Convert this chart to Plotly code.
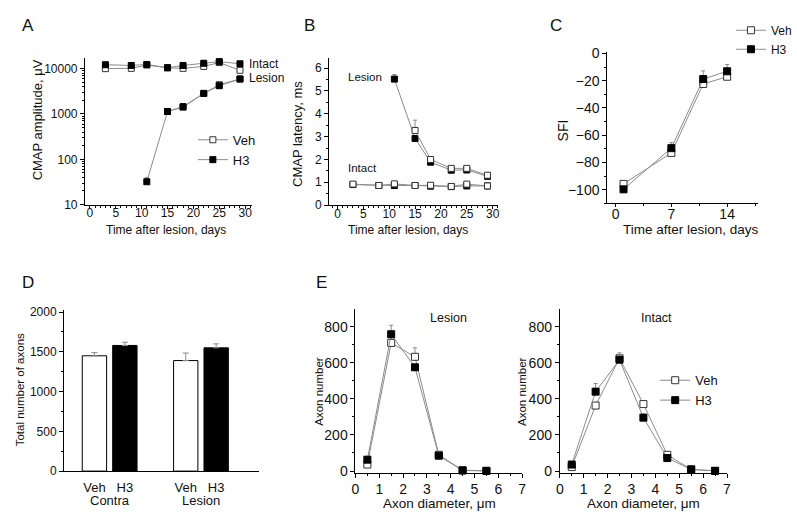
import plotly.graph_objects as go

# ---------------- data ----------------
# Panel A: CMAP amplitude (uV)
days_intact_A = [3, 8, 11, 15, 18, 22, 25, 29]
intact_veh_A = [10000, 10150, 12000, 10400, 10150, 11200, 13600, 9200]
intact_h3_A = [12200, 11750, 12350, 10500, 11750, 13150, 14300, 12800]
days_lesion_veh_A = [15, 18, 22, 25, 29]
lesion_veh_A = [1135, 1410, 2840, 4420, 5920]
days_lesion_h3_A = [11, 15, 18, 22, 25, 29]
lesion_h3_A = [32, 1135, 1450, 2840, 4200, 5900]
lesion_h3_err_A = [8, 0, 0, 0, 0, 0]

# Panel B: CMAP latency (ms)
days_intact_B = [3, 8, 11, 15, 18, 22, 25, 29]
intact_veh_B = [0.92, 0.86, 0.93, 0.86, 0.87, 0.82, 0.92, 0.84]
intact_h3_B = [0.90, 0.86, 0.86, 0.86, 0.83, 0.81, 0.84, 0.84]
days_lesion_veh_B = [15, 18, 22, 25, 29]
lesion_veh_B = [3.27, 2.00, 1.61, 1.61, 1.31]
lesion_veh_err_B = [0.45, 0, 0, 0, 0]
days_lesion_h3_B = [11, 15, 18, 22, 25, 29]
lesion_h3_B = [5.52, 2.92, 1.88, 1.53, 1.54, 1.26]
lesion_h3_err_B = [0.2, 0, 0, 0, 0, 0]

# Panel C: SFI
days_C = [1, 7, 11, 14]
sfi_veh = [-95.7, -73.0, -22.4, -17.1]
sfi_veh_err = [0, 3, 0, 0]
sfi_h3 = [-99.7, -69.5, -18.8, -13.1]
sfi_h3_err = [0, 4, 6, 5]

# Panel D: total number of axons
groups_D = ["Contra", "Lesion"]
treat_D = ["Veh", "H3"]
axons_veh = [1450, 1390]
axons_veh_err = [40, 95]
axons_h3 = [1580, 1550]
axons_h3_err = [40, 50]

# Panel E: axon diameter distributions
diam_lesion = [0.5, 1.5, 2.5, 3.5, 4.5, 5.5]
lesion_veh_E = [36, 710, 633, 90, 5, 1]
lesion_veh_err_E = [0, 40, 50, 10, 0, 0]
lesion_h3_E = [63, 758, 575, 85, 3, 1]
lesion_h3_err_E = [0, 50, 0, 10, 0, 0]
diam_intact = [0.5, 1.5, 2.5, 3.5, 4.5, 5.5, 6.5]
intact_veh_E = [22, 363, 625, 371, 90, 9, 1]
intact_veh_err_E = [0, 0, 30, 0, 0, 0, 0]
intact_h3_E = [36, 440, 617, 296, 72, 9, 1]
intact_h3_err_E = [0, 45, 30, 20, 0, 0, 0]

# ---------------- helpers ----------------
W, H = 797, 530
FONT = "Liberation Sans, Arial, sans-serif"
LINE_C = "#8c8c8c"
ERR_C = "#8c8c8c"


def px(x):
    return x / W


def py(y):
    return 1 - y / H


fig = go.Figure()


def series(x, y, xa, ya, veh, size, err=None, name=None, legend=None, showlegend=False):
    marker = dict(symbol="square", size=size,
                  color="white" if veh else "black",
                  line=dict(color="#333333" if veh else "black", width=1))
    tr = go.Scatter(x=x, y=y, xaxis=xa, yaxis=ya, mode="lines+markers",
                    line=dict(color=LINE_C, width=1), marker=marker,
                    name=name, showlegend=showlegend, cliponaxis=False)
    if err is not None:
        tr.error_y = dict(type="data", symmetric=False, array=err,
                          arrayminus=[0] * len(err), color=ERR_C,
                          thickness=1, width=2)
    if legend:
        tr.legend = legend
    fig.add_trace(tr)


# Panel A
series(days_intact_A, intact_veh_A, "x", "y", True, 6)
series(days_intact_A, intact_h3_A, "x", "y", False, 6)
series(days_lesion_veh_A, lesion_veh_A, "x", "y", True, 6, name="Veh",
       legend="legend", showlegend=True)
series(days_lesion_h3_A, lesion_h3_A, "x", "y", False, 6, err=lesion_h3_err_A,
       name="H3", legend="legend", showlegend=True)

# Panel B (Veh on top)
series(days_intact_B, intact_h3_B, "x2", "y2", False, 6)
series(days_intact_B, intact_veh_B, "x2", "y2", True, 6)
series(days_lesion_h3_B, lesion_h3_B, "x2", "y2", False, 6, err=lesion_h3_err_B)
series(days_lesion_veh_B, lesion_veh_B, "x2", "y2", True, 6, err=lesion_veh_err_B)

# Panel C
series(days_C, sfi_veh, "x3", "y3", True, 7, err=sfi_veh_err, name="Veh",
       legend="legend2", showlegend=True)
series(days_C, sfi_h3, "x3", "y3", False, 7, err=sfi_h3_err, name="H3",
       legend="legend2", showlegend=True)

# Panel D bars
veh_x = [i * 3 for i in range(len(groups_D))]
h3_x = [i * 3 + 1 for i in range(len(groups_D))]
fig.add_trace(go.Bar(x=veh_x, y=axons_veh, xaxis="x4", yaxis="y4", width=0.8,
                     marker=dict(color="white", line=dict(color="black", width=1)),
                     error_y=dict(type="data", symmetric=False, array=axons_veh_err,
                                  arrayminus=[0] * 2, color=ERR_C, thickness=1, width=3),
                     showlegend=False))
fig.add_trace(go.Bar(x=h3_x, y=axons_h3, xaxis="x4", yaxis="y4", width=0.8,
                     marker=dict(color="black", line=dict(color="black", width=1)),
                     error_y=dict(type="data", symmetric=False, array=axons_h3_err,
                                  arrayminus=[0] * 2, color=ERR_C, thickness=1, width=3),
                     showlegend=False))

# Panel E
series(diam_lesion, lesion_veh_E, "x5", "y5", True, 7, err=lesion_veh_err_E)
series(diam_lesion, lesion_h3_E, "x5", "y5", False, 7, err=lesion_h3_err_E)
series(diam_intact, intact_veh_E, "x6", "y6", True, 7, err=intact_veh_err_E,
       name="Veh", legend="legend3", showlegend=True)
series(diam_intact, intact_h3_E, "x6", "y6", False, 7, err=intact_h3_err_E,
       name="H3", legend="legend3", showlegend=True)

# ---------------- axes ----------------
def ax(domain, anchor, rng, fs=12, **kw):
    d = dict(domain=domain, anchor=anchor, range=rng, showline=True,
             linecolor="black", linewidth=1, ticks="outside", ticklen=4,
             tickcolor="black", tickwidth=1, showgrid=False, zeroline=False,
             tickfont=dict(family=FONT, size=fs, color="#111"))
    d.update(kw)
    return d


minor_small = lambda dt: dict(ticks="outside", ticklen=2, dtick=dt, tickcolor="black", showgrid=False)

log_minor = [m * 10 ** e for e in range(1, 4) for m in range(2, 10)]

fig.update_layout(
    xaxis=ax([px(82.3), px(252)], "y", [-0.95, 31.3], dtick=5, tick0=0, ticklen=3,
             ticklabelstandoff=-6, minor=minor_small(1)),
    yaxis=ax([py(203), py(52)], "x", [1, 4.243], type="log",
             tickvals=[10, 100, 1000, 10000], ticktext=["10", "100", "1000", "10000"],
             minor=dict(ticks="outside", ticklen=2, tickvals=log_minor, tickcolor="black", showgrid=False)),
    xaxis2=ax([px(330.5), px(502)], "y2", [-1.62, 31.0], dtick=5, tick0=0, ticklen=3,
              ticklabelstandoff=-6, minor=minor_small(1)),
    yaxis2=ax([py(203.5), py(52)], "x2", [0, 6.46], dtick=1, minor=minor_small(0.5)),
    xaxis3=ax([px(613.3), px(766.7)], "y3", [-1.04, 17.9], fs=14, dtick=7, tick0=0, ticklen=3,
              ticklabelstandoff=-5, minor=minor_small(3.5)),
    yaxis3=ax([py(201.7), py(46.7)], "x3", [-110, 0.7], fs=14, dtick=20, tick0=0, minor=minor_small(10)),
    xaxis4=ax([px(61), px(259)], "y4", [-1, 5.4], fs=13, ticks="", ticklabelstandoff=4,
              tickvals=veh_x + h3_x, ticktext=[treat_D[0]] * 2 + [treat_D[1]] * 2),
    yaxis4=ax([py(476.7), py(311.7)], "x4", [0, 2020], dtick=500, minor=minor_small(250)),
    xaxis5=ax([px(357.3), px(526.7)], "y5", [0, 7], fs=14, dtick=1, minor=minor_small(0.5)),
    yaxis5=ax([py(478.3), py(310)], "x5", [-9, 899], fs=14, dtick=200, minor=minor_small(100)),
    xaxis6=ax([px(565), px(735)], "y6", [0, 7], fs=14, dtick=1, minor=minor_small(0.5)),
    yaxis6=ax([py(478.3), py(310)], "x6", [-9, 899], fs=14, dtick=200, minor=minor_small(100)),
)

leg = lambda x, y, fs: dict(x=px(x), y=py(y), xanchor="left", yanchor="top",
                            bgcolor="rgba(0,0,0,0)", font=dict(family=FONT, size=fs, color="#111"),
                            tracegroupgap=0, itemsizing="trace")
fig.update_layout(legend=leg(192, 121, 13), legend2=leg(739, 9, 12), legend3=leg(662, 368, 13))

# ---------------- annotations ----------------
ann = []


def text(x, y, s, fs, angle=0, xref="paper", xval=None, family=FONT, anchor="center"):
    ann.append(dict(x=xval if xval is not None else px(x), y=py(y), xref=xref, yref="paper",
                    text=s, showarrow=False, textangle=angle, xanchor=anchor, yanchor="middle",
                    font=dict(family=family, size=fs, color="#111")))


# panel letters
for lx, ly, s in [(24, 19, "A"), (310.7, 19, "B"), (561.3, 19, "C"), (24, 283, "D"), (323, 283, "E")]:
    text(lx, ly, s, 17)

# axis titles
text(35, 116, "CMAP amplitude, \u03bcV", 13, -90)
text(165, 229.5, "Time after lesion, days", 12)
text(298.3, 130, "CMAP latency, ms", 13, -90)
text(410.4, 229.5, "Time after lesion, days", 12)
text(568.3, 126.7, "SFI", 14, -90)
text(698.3, 228.3, "Time after lesion, days", 13.5)
text(16, 393, "Total number of axons", 11.5, -90)
text(320.7, 394.7, "Axon number", 11.5, -90)
text(527.3, 394.7, "Axon number", 11.5, -90)
text(443, 510, "Axon diameter, \u03bcm", 13.5)
text(650.3, 510, "Axon diameter, \u03bcm", 13.5)

# in-plot labels
text(247, 59, "Intact", 12, anchor="left")
text(247, 73, "Lesion", 12, anchor="left")
text(366.7, 71.7, "Lesion", 11.5)
text(364, 165.7, "Intact", 11.5)
text(452, 319.3, "Lesion", 12.5)
text(663.3, 319.3, "Intact", 12.5)

# group labels in D
for i, g in enumerate(groups_D):
    text(0, 506.7, g, 13, xref="x4", xval=(veh_x[i] + h3_x[i]) / 2)

fig.update_layout(annotations=ann, width=W, height=H, autosize=False,
                  margin=dict(l=0, r=0, t=0, b=0),
                  paper_bgcolor="white", plot_bgcolor="white",
                  font=dict(family=FONT, color="#111"), barmode="overlay")

fig.write_html("out.html", config={"displayModeBar": False},
               post_script="document.body.style.margin='0px';")
